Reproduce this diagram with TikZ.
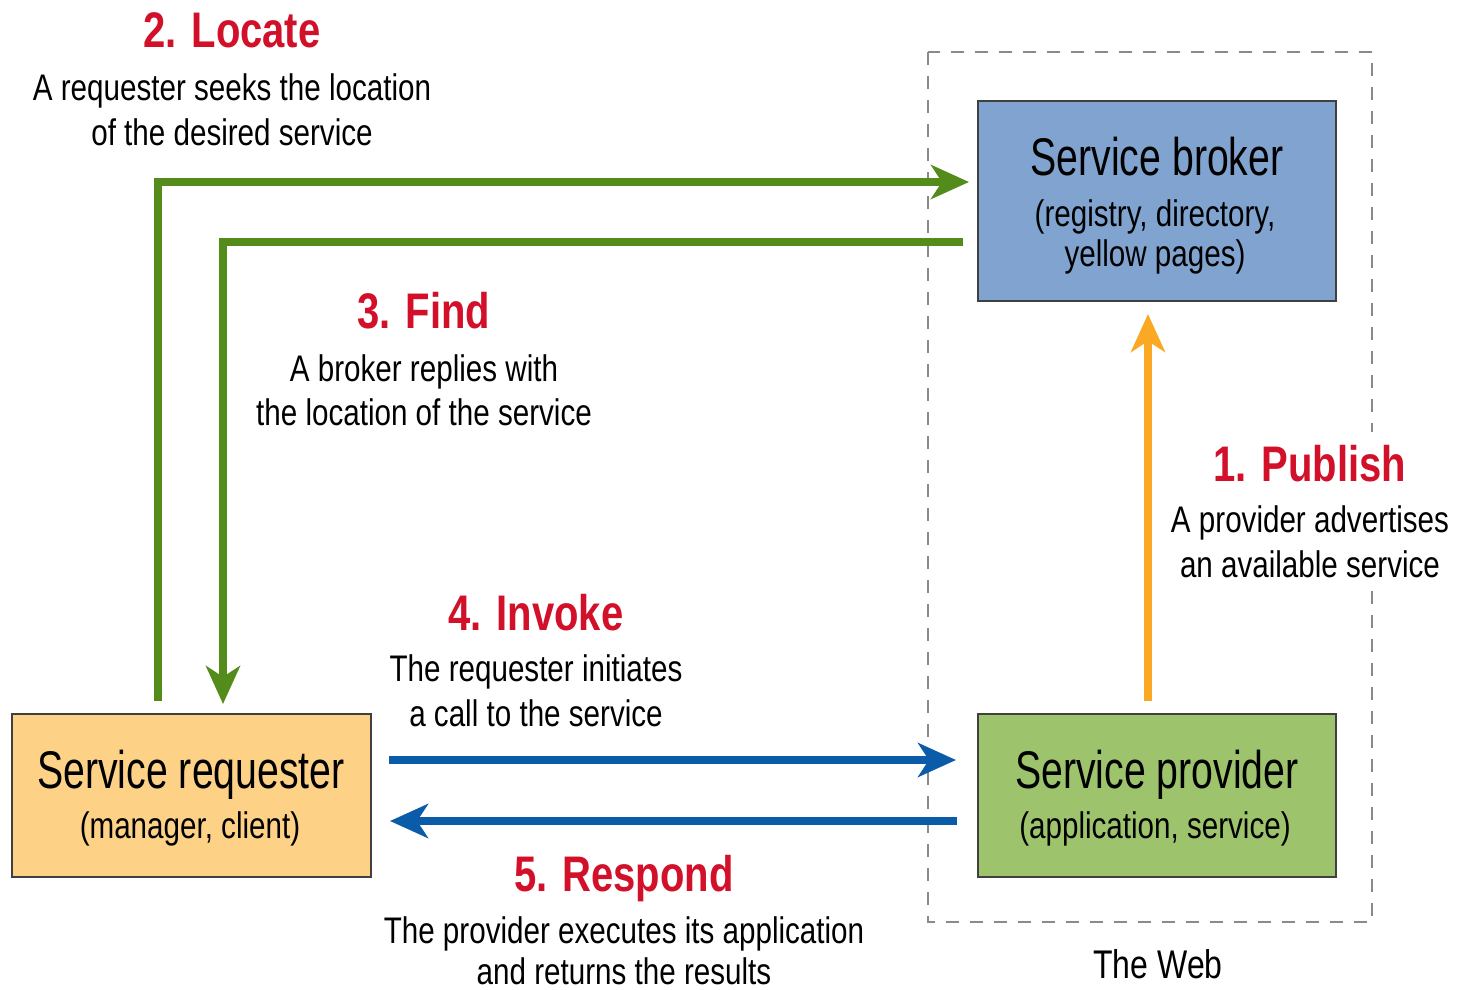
\documentclass[tikz,border=0pt]{standalone}
\usepackage{fontspec}
\setmainfont[FakeStretch=0.8]{Liberation Sans}
\newfontfamily\titlefont[FakeStretch=0.74]{Liberation Sans}
\usetikzlibrary{arrows.meta}
\definecolor{cgreen}{HTML}{548C1C}
\definecolor{corange}{HTML}{FBA824}
\definecolor{cblue}{HTML}{0B5CA8}
\definecolor{cred}{HTML}{D2102A}
\definecolor{fbroker}{HTML}{80A4CF}
\definecolor{fprov}{HTML}{9DC46C}
\definecolor{freq}{HTML}{FDD186}
\definecolor{cgray}{HTML}{8A8A8A}
\tikzset{
  box/.style={draw=black!75, line width=1.2pt, inner sep=0pt},
  head/.style={anchor=base, text=cred, font=\fontsize{50}{50}\selectfont\bfseries},
  body/.style={anchor=base, font=\fontsize{37}{37}\selectfont},
  title/.style={anchor=base, font=\titlefont\fontsize{53}{53}\selectfont},
  sub/.style={anchor=base, font=\fontsize{37}{37}\selectfont},
  flow/.style={line width=7.5pt, -{Stealth[length=38pt,width=34pt,inset=11pt]}},
}
\begin{document}
\begin{tikzpicture}[x=1pt,y=-1pt]
\useasboundingbox[fill=white] (0,0) rectangle (1457,990);
% web box
\draw[cgray, line width=2pt, dash pattern=on 13pt off 11pt] (928,52) rectangle (1372,922);
\fill[white] (1165,432) rectangle (1452,588);
\node[anchor=base] (web) at (1158,978) {\fontsize{40}{40}\selectfont The Web};
% boxes
\draw[box, fill=fbroker] (978,101) rectangle (1336,301);
\draw[box, fill=fprov] (978,714) rectangle (1336,877);
\draw[box, fill=freq] (12,714) rectangle (371,877);
\node[title] (bt) at (1157,175) {Service broker};
\node[sub] (bs1) at (1155,226) {(registry, directory,};
\node[sub] (bs2) at (1155,266) {yellow pages)};
\node[title] (rt) at (191,788) {Service requester};
\node[sub] (rs) at (190,838) {(manager, client)};
\node[title] (pt) at (1157,788) {Service provider};
\node[sub] (ps) at (1155,838) {(application, service)};
% connector end points
\coordinate (locS) at (158,701);
\coordinate (locC) at (158,182);
\coordinate (locE) at (969,182);
\coordinate (finS) at (963,242);
\coordinate (finC) at (223,242);
\coordinate (finE) at (223,704);
\coordinate (pubS) at (1148,701);
\coordinate (pubE) at (1148,314);
\coordinate (invS) at (389,760);
\coordinate (invE) at (956,760);
\coordinate (resS) at (957,821);
\coordinate (resE) at (390,821);
\draw[flow, cgreen] (locS) -- (locC) -- (locE);
\draw[flow, cgreen] (finS) -- (finC) -- (finE);
\draw[flow, corange] (pubS) -- (pubE);
\draw[flow, cblue] (invS) -- (invE);
\draw[flow, cblue] (resS) -- (resE);
% labels
\node[head] (h2) at (232,48) {2. Locate};
\node[body] (l2a) at (232,100) {A requester seeks the location};
\node[body] (l2b) at (232,145) {of the desired service};
\node[head] (h3) at (424,328) {3. Find};
\node[body] (l3a) at (424,381) {A broker replies with};
\node[body] (l3b) at (424,425) {the location of the service};
\node[head] (h1) at (1310,481) {1. Publish};
\node[body] (l1a) at (1310,532) {A provider advertises};
\node[body] (l1b) at (1310,577) {an available service};
\node[head] (h4) at (536,630) {4. Invoke};
\node[body] (l4a) at (536,681) {The requester initiates};
\node[body] (l4b) at (536,726) {a call to the service};
\node[head] (h5) at (624,891) {5. Respond};
\node[body] (l5a) at (624,943) {The provider executes its application};
\node[body] (l5b) at (624,984) {and returns the results};
\end{tikzpicture}
\end{document}
